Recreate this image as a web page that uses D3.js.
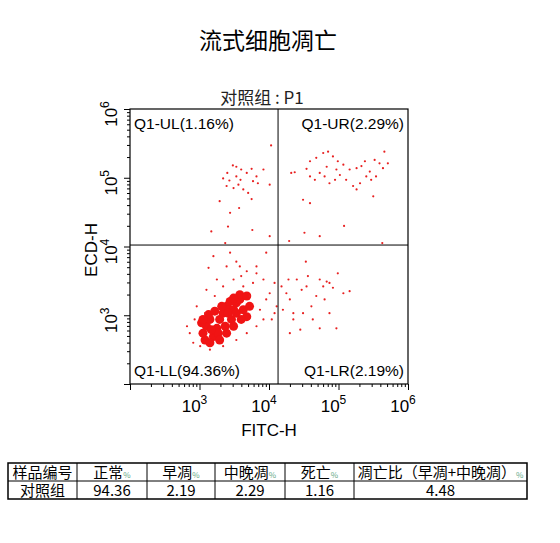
<!DOCTYPE html>
<html><head><meta charset="utf-8">
<script src="https://cdn.jsdelivr.net/npm/d3@7"></script>
<style>body{margin:0;background:#fff;font-family:Arial,"Liberation Sans","Noto Sans CJK SC",sans-serif}</style>
</head><body>
<script>
// events as [log10 FITC-H, log10 ECD-H]
var coreEvents=[[3.05,2.74],[3.10,2.84],[3.15,2.94],[3.08,2.64],[3.20,2.69],[3.25,2.81],[3.29,2.94],[3.34,3.03],[3.39,3.13],[3.44,3.20],[3.49,3.08],[3.53,3.18],[3.58,3.23],[3.03,2.89],[3.13,3.01],[3.22,3.06],[3.32,3.13],[3.41,3.03],[3.46,2.94],[3.37,2.84],[3.27,2.74],[3.17,2.79],[3.53,3.03],[3.63,3.08],[3.68,2.98],[3.60,2.94],[3.49,2.84],[3.39,2.74],[3.29,2.64],[3.15,2.60],[3.05,2.94],[3.58,3.30],[3.49,3.25],[3.72,3.13],[3.68,3.28]];
var llEvents=[[3.20,3.86],[3.13,3.69],[3.25,3.52],[3.39,3.71],[3.53,3.78],[3.68,3.64],[3.82,3.71],[3.92,3.52],[3.96,3.91],[4.01,3.32],[4.08,3.03],[4.04,2.94],[3.87,3.08],[3.72,3.28],[3.10,3.37],[2.96,3.13],[2.86,2.74],[2.82,2.84],[2.91,2.60],[3.01,2.55],[3.15,2.50],[3.34,2.55],[3.53,2.64],[3.68,2.74],[3.82,2.84],[3.92,2.94],[3.49,3.52],[3.63,3.42],[3.77,3.47],[3.34,3.42],[3.22,3.28],[3.08,3.03],[2.93,2.94],[3.44,3.91],[3.60,3.57],[3.96,3.23],[4.08,3.47],[4.11,3.13],[3.82,3.61],[3.58,3.71]];
var ulEvents=[[4.03,5.47],[3.34,4.99],[3.40,5.07],[3.48,5.18],[3.53,5.16],[3.60,5.12],[3.68,5.07],[3.75,5.13],[3.82,5.02],[3.92,5.12],[3.39,4.88],[3.49,4.85],[3.56,4.90],[3.63,4.83],[3.70,4.78],[3.77,4.95],[3.84,4.92],[4.01,4.90],[3.29,4.66],[3.44,4.49],[3.57,4.56],[3.75,4.69],[3.17,4.22],[3.41,4.29],[3.76,4.24],[4.01,4.15],[3.37,4.05],[3.59,4.97],[3.53,5.02],[3.43,4.96]];
var urEvents=[[4.32,5.07],[4.37,5.08],[4.54,5.13],[4.59,5.24],[4.68,5.29],[4.78,5.36],[4.85,5.38],[4.92,5.31],[4.99,5.24],[5.07,5.19],[5.16,5.12],[5.26,5.14],[5.33,5.17],[5.38,5.24],[5.45,5.09],[5.52,5.26],[5.59,5.21],[5.66,5.38],[5.71,5.21],[5.64,5.14],[5.54,5.02],[5.47,4.97],[5.40,5.02],[5.31,4.92],[5.21,4.88],[5.11,4.97],[5.02,5.04],[4.95,4.97],[4.87,4.92],[4.80,5.02],[4.73,5.07],[4.66,4.97],[4.59,5.02],[4.49,4.68],[4.59,4.63],[5.08,4.30],[4.73,4.15],[4.51,4.20],[4.29,4.08],[5.63,4.05],[5.26,4.83],[4.83,5.16],[4.97,5.12],[5.50,4.73]];
var lrEvents=[[4.18,3.42],[4.25,3.32],[4.30,3.23],[4.35,3.03],[4.40,3.52],[4.47,3.37],[4.53,3.78],[4.56,3.57],[4.61,3.13],[4.68,3.28],[4.73,3.52],[4.78,3.42],[4.83,3.49],[4.87,3.47],[4.92,3.40],[4.99,3.61],[5.07,3.32],[5.16,3.35],[4.73,2.81],[4.97,2.81],[4.45,2.79],[4.35,2.94],[4.28,3.52],[4.49,3.03],[4.63,2.94],[4.80,3.23],[4.87,3.03],[4.20,3.08],[4.30,2.74],[4.54,3.42]];
var gateX=13500, gateY=10500;
var quadLabels=["Q1-UL(1.16%)","Q1-UR(2.29%)","Q1-LL(94.36%)","Q1-LR(2.19%)"];
var decades=[3,4,5,6];
var tableHead=["样品编号","正常","早凋","中晚凋","死亡","凋亡比（早凋+中晚凋）"];
var tableRow=["对照组","94.36","2.19","2.29","1.16","4.48"];

var svg=d3.select("body").append("svg").attr("width",560).attr("height",543);
svg.append("text").attr("x",268).attr("y",49).attr("text-anchor","middle")
  .attr("font-size",23).attr("font-family","Noto Sans CJK SC").text("流式细胞凋亡");
svg.append("text").attr("x",262).attr("y",104).attr("text-anchor","middle")
  .attr("font-size",17).attr("fill","#222").attr("font-family","Noto Sans CJK SC").text("对照组 : P1");

var L=130,R=408,T=109,B=384;
var x=d3.scaleLog().domain([100,1e6]).range([L,R]);
var y=d3.scaleLog().domain([100,1e6]).range([B,T]);
var g=svg.append("g");

var all=[].concat(llEvents,ulEvents,urEvents,lrEvents);
g.selectAll(".core").data(coreEvents).enter().append("circle")
  .attr("cx",d=>x(Math.pow(10,d[0]))).attr("cy",d=>y(Math.pow(10,d[1]))).attr("r",4.5).attr("fill","#f01414");
g.selectAll(".ev").data(all).enter().append("circle")
  .attr("cx",d=>x(Math.pow(10,d[0]))).attr("cy",d=>y(Math.pow(10,d[1]))).attr("r",1.1).attr("fill","#e82020");

g.append("rect").attr("x",L).attr("y",T).attr("width",R-L).attr("height",B-T).attr("fill","none").attr("stroke","#000").attr("stroke-width",1.2);
g.append("line").attr("x1",x(gateX)).attr("x2",x(gateX)).attr("y1",T).attr("y2",B).attr("stroke","#000");
g.append("line").attr("x1",L).attr("x2",R).attr("y1",y(gateY)).attr("y2",y(gateY)).attr("stroke","#000");

var qf=15.5;
g.append("text").attr("x",L+4).attr("y",T+20).attr("font-size",qf).text(quadLabels[0]);
g.append("text").attr("x",R-4).attr("y",T+20).attr("text-anchor","end").attr("font-size",qf).text(quadLabels[1]);
g.append("text").attr("x",L+4).attr("y",B-8).attr("font-size",qf).text(quadLabels[2]);
g.append("text").attr("x",R-4).attr("y",B-8).attr("text-anchor","end").attr("font-size",qf).text(quadLabels[3]);

// minor/major ticks
var tv=[];for(var e=2;e<6;e++)for(var m=1;m<10;m++)tv.push(m*Math.pow(10,e));tv.push(1e6);
svg.append("g").attr("transform","translate(0,"+B+")")
  .call(d3.axisBottom(x).tickValues(tv).tickFormat("").tickSize(0))
  .call(a=>a.select(".domain").remove())
  .call(a=>a.selectAll(".tick line").attr("y2",d=>Math.log10(d)%1===0?6:3).attr("stroke","#000"));
svg.append("g").attr("transform","translate("+L+",0)")
  .call(d3.axisLeft(y).tickValues(tv).tickFormat("").tickSize(0))
  .call(a=>a.select(".domain").remove())
  .call(a=>a.selectAll(".tick line").attr("x2",d=>Math.log10(d)%1===0?-6:-3).attr("stroke","#000"));

decades.forEach(function(p){
  var t=svg.append("text").attr("x",x(Math.pow(10,p))-5).attr("y",B+28).attr("text-anchor","middle").attr("font-size",17);
  t.append("tspan").text("10");
  t.append("tspan").attr("dy",-8).attr("font-size",12).text(p);
});
[3,4,5,6].forEach(function(p){
  var yy=y(Math.pow(10,p));
  var t=svg.append("text").attr("transform","translate(117,"+(yy+5)+") rotate(-90)").attr("text-anchor","middle").attr("font-size",17);
  t.append("tspan").text("10");
  t.append("tspan").attr("dy",-8).attr("font-size",12).text(p);
});
svg.append("text").attr("x",269).attr("y",436).attr("text-anchor","middle").attr("font-size",17).text("FITC-H");
svg.append("text").attr("transform","translate(97,250) rotate(-90)").attr("text-anchor","middle").attr("font-size",17).text("ECD-H");

// table
var cols=[8,77,147,215,285,354,527],rows=[463,481,499];
var tb=svg.append("g").attr("font-family","Noto Sans CJK SC, sans-serif");
tb.append("rect").attr("x",cols[0]).attr("y",rows[0]).attr("width",cols[6]-cols[0]).attr("height",rows[2]-rows[0]).attr("fill","none").attr("stroke","#000").attr("stroke-width",1.5);
tb.append("line").attr("x1",cols[0]).attr("x2",cols[6]).attr("y1",rows[1]).attr("y2",rows[1]).attr("stroke","#000");
cols.slice(1,6).forEach(c=>tb.append("line").attr("x1",c).attr("x2",c).attr("y1",rows[0]).attr("y2",rows[2]).attr("stroke","#000"));
tableHead.forEach(function(h,i){
  var t=tb.append("text").attr("x",(cols[i]+cols[i+1])/2).attr("y",rows[0]+15).attr("text-anchor","middle").attr("font-size",15).text(h);
  if(i>0)t.append("tspan").attr("font-size",8).attr("fill","#6a8").text("%");
});
tableRow.forEach(function(v,i){
  tb.append("text").attr("x",(cols[i]+cols[i+1])/2).attr("y",rows[1]+15).attr("text-anchor","middle").attr("font-size",15).text(v);
});
</script>
</body></html>
